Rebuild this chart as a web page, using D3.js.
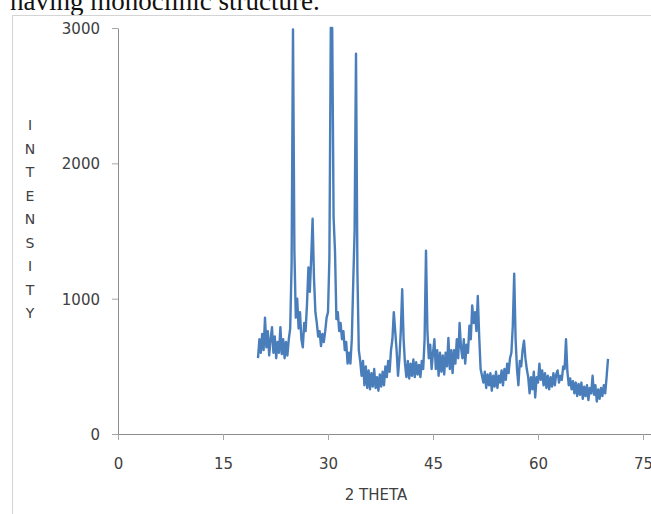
<!DOCTYPE html>
<html>
<head>
<meta charset="utf-8">
<script src="https://cdn.jsdelivr.net/npm/d3@7"></script>
<style>
  html, body { margin: 0; padding: 0; background: #fff; overflow: hidden; }
  svg { display: block; }
  .tick text { font-family: "DejaVu Sans", sans-serif; font-size: 15px; fill: #404040; }
</style>
</head>
<body>
<svg id="chart" width="651" height="514"></svg>
<script>
// 2-theta scan, one row per degree (0.2 deg steps), starting at 20
var intensity = [
  560, 700, 600, 740, 620,     // 20
  860, 640, 760, 580, 700,     // 21
  790, 600, 720, 560, 680,     // 22
  600, 790, 590, 700, 560,     // 23
  680, 580, 700, 780, 1250,    // 24
  2990, 1350, 860, 1000, 780,  // 25
  900, 700, 640, 820, 760,     // 26
  960, 1230, 1050, 1300, 1590, // 27
  1150, 900, 820, 720, 760,    // 28
  650, 740, 680, 760, 860,     // 29
  900, 1300, 3000, 3000, 1600, // 30
  1350, 850, 900, 760, 820,    // 31
  700, 760, 620, 680, 520,     // 32
  600, 520, 700, 1110, 1500,   // 33
  2810, 1200, 620, 540, 430,   // 34
  540, 360, 500, 340, 470,     // 35
  330, 450, 350, 480, 340,     // 36
  420, 320, 440, 350, 460,     // 37
  360, 500, 420, 540, 460,     // 38
  620, 700, 900, 760, 620,     // 39
  430, 560, 760, 1070, 700,    // 40
  520, 420, 540, 410, 520,     // 41
  430, 550, 420, 530, 440,     // 42
  510, 420, 540, 480, 700,     // 43
  1355, 760, 560, 660, 480,    // 44
  600, 700, 480, 620, 430,     // 45
  600, 460, 580, 440, 600,     // 46
  500, 710, 480, 620, 450,     // 47
  620, 520, 700, 560, 820,     // 48
  640, 560, 700, 520, 660,     // 49
  600, 800, 700, 950, 820,     // 50
  900, 760, 1020, 720, 480,    // 51
  430, 380, 460, 340, 440,     // 52
  360, 450, 320, 430, 350,     // 53
  460, 340, 430, 380, 470,     // 54
  360, 480, 400, 520, 450,     // 55
  560, 600, 800, 1185, 700,    // 56
  480, 360, 540, 500, 620,     // 57
  690, 560, 480, 420, 300,     // 58
  420, 330, 460, 270, 420,     // 59
  380, 520, 400, 470, 360,     // 60
  450, 340, 430, 330, 420,     // 61
  350, 450, 360, 440, 470,     // 62
  380, 430, 400, 500, 480,     // 63
  700, 460, 360, 410, 330,     // 64
  390, 300, 380, 280, 370,     // 65
  290, 380, 260, 350, 280,     // 66
  360, 250, 340, 300, 430,     // 67
  290, 360, 240, 330, 260,     // 68
  340, 280, 360, 300, 420,     // 69
  555                          // 70
];
var twoTheta = intensity.map(function(v, i) { return 20 + i * 0.2; });

var xTicks = [0, 15, 30, 45, 60, 75];
var yTicks = [0, 1000, 2000, 3000];
var xTitle = '2 THETA';
var yTitle = 'INTENSITY';
var caption = 'having monoclinic structure.';

var svg = d3.select('#chart');

// page text cut off above the figure
svg.append('text')
    .attr('x', 10).attr('y', 10)
    .style('font-family', '"Liberation Serif", serif')
    .style('font-size', '27px')
    .style('fill', '#111')
    .text(caption);

// chart frame
svg.append('rect')
    .attr('x', 12.5).attr('y', 15.5)
    .attr('width', 700).attr('height', 600)
    .attr('fill', 'none')
    .attr('stroke', '#d4d4d4');

var x = d3.scaleLinear().domain([0, 75]).range([118, 643]);
var y = d3.scaleLinear().domain([0, 3000]).range([434, 28]);

var xAxis = svg.append('g')
    .attr('transform', 'translate(0,434)')
    .call(d3.axisBottom(x).tickValues(xTicks).tickFormat(d3.format('d'))
      .tickSize(6).tickPadding(26).tickSizeOuter(0));
var yAxis = svg.append('g')
    .attr('transform', 'translate(118,0)')
    .call(d3.axisLeft(y).tickValues(yTicks).tickFormat(d3.format('d'))
      .tickSize(6).tickPadding(12).tickSizeOuter(0));

[xAxis, yAxis].forEach(function(g) {
  g.select('.domain').attr('stroke', '#8c8c8c');
  g.selectAll('.tick line').attr('stroke', '#a6a6a6');
});
xAxis.select('.domain').attr('d', 'M118,0.5H651');
xAxis.selectAll('.tick text').attr('dy', '0.2em');
yAxis.selectAll('.tick text').attr('dy', '0.36em');

var line = d3.line()
    .x(function(d, i) { return x(twoTheta[i]); })
    .y(function(d) { return y(d); });

svg.append('path')
    .datum(intensity)
    .attr('d', line)
    .attr('fill', 'none')
    .attr('stroke', '#4a7ebb')
    .attr('stroke-width', 2.4)
    .attr('stroke-linejoin', 'round');

// axis titles
svg.append('text')
    .attr('x', 376).attr('y', 500)
    .attr('text-anchor', 'middle')
    .style('font-family', '"DejaVu Sans", sans-serif')
    .style('font-size', '15px')
    .style('fill', '#404040')
    .text(xTitle);

svg.append('g').selectAll('text')
    .data(yTitle.split(''))
    .join('text')
    .attr('x', 30)
    .attr('y', function(d, i) { return 130 + i * 23.5; })
    .attr('text-anchor', 'middle')
    .style('font-family', '"DejaVu Sans", sans-serif')
    .style('font-size', '14px')
    .style('fill', '#404040')
    .text(function(d) { return d; });
</script>
</body>
</html>
